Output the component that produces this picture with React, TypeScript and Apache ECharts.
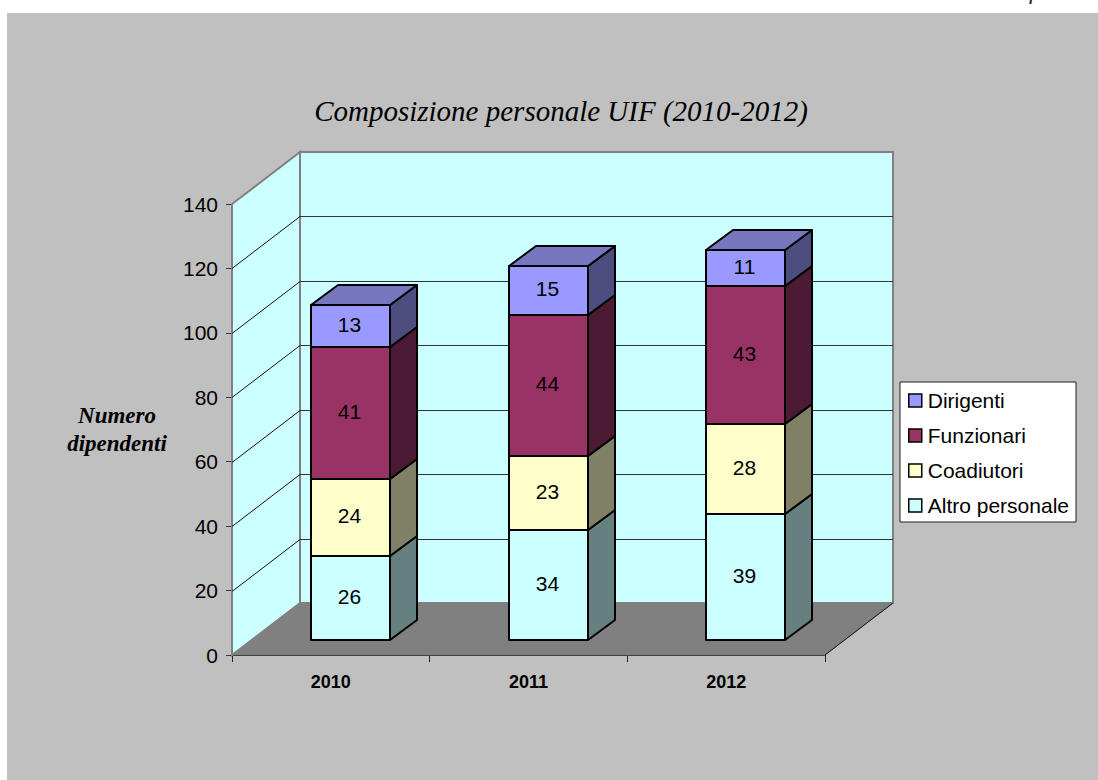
import React, { useEffect, useRef } from "react";
import * as echarts from "echarts";

const years = ["2010", "2011", "2012"];
const altroPersonale = [26, 34, 39];
const coadiutori = [24, 23, 28];
const funzionari = [41, 44, 43];
const dirigenti = [13, 15, 11];
const yTicks = [0, 20, 40, 60, 80, 100, 120, 140];

const titleText = "Composizione personale UIF (2010-2012)";
const yName = "Numero\ndipendenti";

const stacks = [
  { name: "Altro personale", values: altroPersonale, color: "#CCFFFF", side: "#668080", top: "#A3CCCC" },
  { name: "Coadiutori", values: coadiutori, color: "#FFFFCC", side: "#808066", top: "#CCCCA3" },
  { name: "Funzionari", values: funzionari, color: "#993366", side: "#4D1A33", top: "#7A2952" },
  { name: "Dirigenti", values: dirigenti, color: "#9999FF", side: "#4D4D80", top: "#7777BF" },
];

const WALL_DX = 68;
const WALL_DY = -52;
const BAR_DX = 27;
const BAR_DY = -20;
const BAR_BAND = 0.4;
const BAR_SHIFT = 0.1;
const BAR_LIFT = -15;
const SANS = '"Liberation Sans", Arial, sans-serif';
const SERIF = '"Liberation Serif", "Times New Roman", serif';

const wallsItem = (params: any, api: any) => {
  const { x, y, width, height } = params.coordSys;
  const b = y + height;
  const r = x + width;
  const children: any[] = [
    {
      type: "polygon",
      shape: { points: [[x, y], [x + WALL_DX, y + WALL_DY], [x + WALL_DX, b + WALL_DY], [x, b]] },
      style: { fill: "#CCFFFF", stroke: "#808080", lineWidth: 2 },
    },
    {
      type: "rect",
      shape: { x: x + WALL_DX, y: y + WALL_DY, width, height },
      style: { fill: "#CCFFFF", stroke: "#808080", lineWidth: 2 },
    },
    {
      type: "polygon",
      shape: { points: [[x, b], [r, b], [r + WALL_DX, b + WALL_DY], [x + WALL_DX, b + WALL_DY]] },
      style: { fill: "#808080", stroke: "#808080", lineWidth: 1 },
    },
    {
      type: "line",
      shape: { x1: r, y1: b, x2: r + WALL_DX, y2: b + WALL_DY },
      style: { stroke: "#111111", lineWidth: 1 },
    },
  ];
  yTicks.slice(1).forEach((t, i) => {
    const py = Math.round(api.coord([0, t])[1]) + 0.5;
    if (i < yTicks.length - 2) {
      children.push({
        type: "line",
        shape: { x1: x + WALL_DX, y1: py + WALL_DY, x2: r + WALL_DX, y2: py + WALL_DY },
        style: { stroke: "#333333", lineWidth: 1 },
      });
      children.push({
        type: "line",
        shape: { x1: x, y1: py, x2: x + WALL_DX, y2: py + WALL_DY },
        style: { stroke: "#111111", lineWidth: 1 },
      });
    }
  });
  return { type: "group", children };
};

const barItem = (stack: any, isTop: boolean) => (params: any, api: any) => {
  const idx = api.value(0);
  const start = api.value(1);
  const val = api.value(2);
  const band = api.size([1, 0])[0];
  const w = band * BAR_BAND;
  const cx = api.coord([idx, 0])[0] + band * BAR_SHIFT;
  const l = Math.round(cx - w / 2);
  const r = Math.round(cx + w / 2);
  const bot = Math.round(api.coord([idx, start])[1]) + BAR_LIFT;
  const top = Math.round(api.coord([idx, start + val])[1]) + BAR_LIFT;
  const edge = { stroke: "#000000", lineWidth: 2, lineJoin: "round" };
  const children: any[] = [
    {
      type: "polygon",
      shape: { points: [[r, bot], [r + BAR_DX, bot + BAR_DY], [r + BAR_DX, top + BAR_DY], [r, top]] },
      style: { fill: stack.side, ...edge },
    },
    {
      type: "rect",
      shape: { x: l, y: top, width: r - l, height: bot - top },
      style: { fill: stack.color, ...edge },
    },
  ];
  if (isTop) {
    children.push({
      type: "polygon",
      shape: { points: [[l, top], [r, top], [r + BAR_DX, top + BAR_DY], [l + BAR_DX, top + BAR_DY]] },
      style: { fill: stack.top, ...edge },
    });
  }
  children.push({
    type: "text",
    style: {
      text: String(val),
      x: (l + r) / 2 - 1,
      y: (top + bot) / 2 - 2,
      align: "center",
      verticalAlign: "middle",
      font: `21px ${SANS}`,
      fill: "#000000",
    },
  });
  return { type: "group", children };
};

function buildOption() {
  const cum = years.map(() => 0);
  const barSeries = stacks.map((s, si) => {
    const data = s.values.map((v, i) => {
      const row = [i, cum[i], v];
      cum[i] += v;
      return row;
    });
    return {
      type: "custom",
      name: s.name,
      coordinateSystem: "cartesian2d",
      renderItem: barItem(s, si === stacks.length - 1),
      encode: { x: 0, y: 1 },
      itemStyle: { color: s.color, borderColor: "#000", borderWidth: 1.5 },
      clip: false,
      silent: true,
      z: 3,
      data,
    };
  });
  return {
    animation: false,
    backgroundColor: "#FFFFFF",
    title: {
      text: titleText,
      left: 556,
      top: 91,
      textAlign: "center",
      textStyle: { fontFamily: SERIF, fontStyle: "italic", fontWeight: "normal", fontSize: 29, color: "#000" },
    },
    legend: {
      orient: "vertical",
      left: 900,
      top: 382,
      padding: [8, 7, 6, 8],
      itemWidth: 13,
      itemHeight: 13,
      itemGap: 14,
      selectedMode: false,
      icon: "rect",
      backgroundColor: "#FFFFFF",
      borderColor: "#222222",
      borderWidth: 1,
      borderRadius: 0,
      data: [...stacks].reverse().map((s) => ({
        name: s.name,
        itemStyle: { color: s.color, borderColor: "#000", borderWidth: 1.5 },
      })),
      textStyle: { fontFamily: SANS, fontSize: 21, color: "#000", padding: [0, 0, 0, 1] },
    },
    grid: { left: 232, top: 204, width: 593, height: 451, containLabel: false },
    xAxis: {
      type: "category",
      data: years,
      axisLine: { show: true, lineStyle: { color: "#000", width: 1 } },
      axisTick: { show: true, length: 7, lineStyle: { color: "#222" } },
      axisLabel: { fontFamily: SANS, fontWeight: "bold", fontSize: 18, color: "#000", margin: 18 },
      splitLine: { show: false },
    },
    yAxis: {
      type: "value",
      min: 0,
      max: 140,
      interval: 20,
      name: yName,
      nameLocation: "middle",
      nameRotate: 0,
      nameGap: 115,
      nameTextStyle: {
        fontFamily: SERIF,
        fontStyle: "italic",
        fontWeight: "bold",
        fontSize: 23,
        lineHeight: 28,
        color: "#000",
        align: "center",
      },
      axisLine: { show: true, lineStyle: { color: "#000", width: 1 } },
      axisTick: { show: true, length: 6, lineStyle: { color: "#333" } },
      axisLabel: { fontFamily: SANS, fontSize: 21, color: "#000", margin: 14 },
      splitLine: { show: false },
    },
    graphic: [
      { type: "rect", z: -10, silent: true, shape: { x: 7, y: 13, width: 1091, height: 767 }, style: { fill: "#C0C0C0" } },
      {
        type: "text",
        z: -5,
        silent: true,
        x: 1029,
        y: -21,
        style: { text: "f", font: `italic 24px ${SERIF}`, fill: "#222" },
      },
    ],
    series: [
      {
        type: "custom",
        name: "walls",
        coordinateSystem: "cartesian2d",
        renderItem: wallsItem,
        silent: true,
        clip: false,
        z: 1,
        encode: { x: 0, y: 1 },
        data: [[0, 0]],
      },
      ...barSeries,
    ],
  };
}

export default function App() {
  const ref = useRef<HTMLDivElement>(null);
  useEffect(() => {
    const chart = echarts.init(ref.current!, undefined, { renderer: "svg" });
    chart.setOption(buildOption() as any);
    return () => chart.dispose();
  }, []);
  return <div ref={ref} style={{ position: "absolute", left: 0, top: 0, width: 1098, height: 780 }} />;
}
